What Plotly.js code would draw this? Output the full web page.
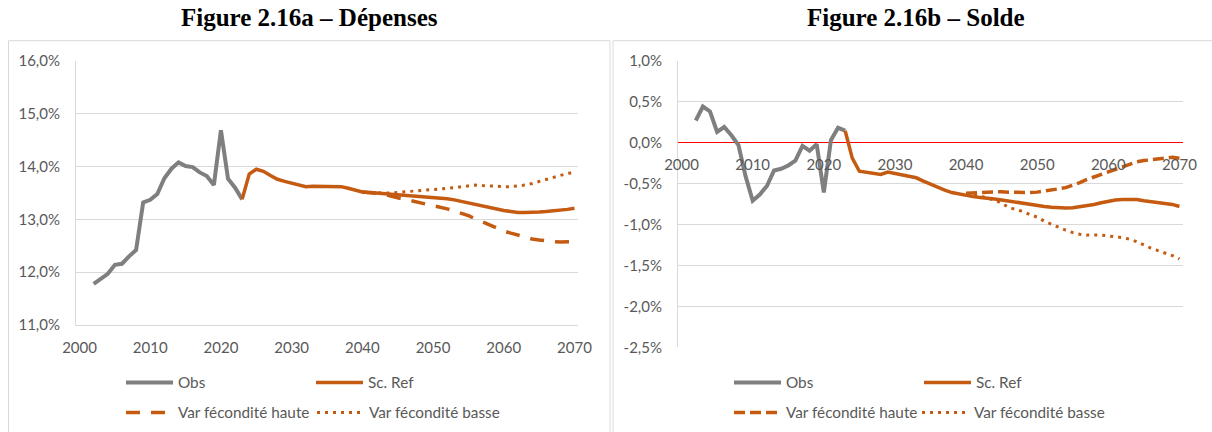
<!DOCTYPE html>
<html><head><meta charset="utf-8">
<script src="https://cdn.plot.ly/plotly-3.0.1.min.js"></script>
<style>html,body{margin:0;padding:0;background:#fff}#chart{width:1212px;height:432px}</style>
</head><body><div id="chart"></div>
<script>
// ---------- DATA ----------
const obsYears = [2002,2003,2004,2005,2006,2007,2008,2009,2010,2011,2012,2013,2014,2015,2016,2017,2018,2019,2020,2021,2022,2023];
const refYears = [2023,2024,2025,2026,2027,2028,2029,2030,2031,2032,2033,2034,2035,2036,2037,2038,2039,2040,2041,2042,2043,2044,2045,2046,2047,2048,2049,2050,2051,2052,2053,2054,2055,2056,2057,2058,2059,2060,2061,2062,2063,2064,2065,2066,2067,2068,2069,2070];
const varYears = [2040,2041,2042,2043,2044,2045,2046,2047,2048,2049,2050,2051,2052,2053,2054,2055,2056,2057,2058,2059,2060,2061,2062,2063,2064,2065,2066,2067,2068,2069,2070];

// Figure 2.16a – Dépenses (% du PIB)
const depObs = [11.78,11.87,11.97,12.14,12.16,12.30,12.42,13.32,13.37,13.48,13.78,13.96,14.08,14.01,13.99,13.89,13.82,13.65,14.69,13.77,13.60,13.38];
const depRef = [13.38,13.86,13.95,13.91,13.83,13.76,13.72,13.69,13.65,13.62,13.63,13.63,13.63,13.63,13.62,13.59,13.55,13.52,13.51,13.50,13.49,13.47,13.46,13.45,13.44,13.43,13.43,13.42,13.41,13.39,13.37,13.34,13.31,13.29,13.26,13.23,13.20,13.17,13.15,13.13,13.13,13.13,13.14,13.15,13.16,13.17,13.19,13.21];
const depHaute = [13.52,13.51,13.50,13.48,13.44,13.41,13.39,13.36,13.33,13.30,13.27,13.24,13.20,13.16,13.12,13.07,13.01,12.95,12.89,12.83,12.78,12.74,12.70,12.66,12.63,12.61,12.59,12.58,12.57,12.57,12.58];
const depBasse = [13.52,13.51,13.50,13.50,13.50,13.51,13.52,13.53,13.54,13.55,13.56,13.57,13.58,13.60,13.62,13.64,13.65,13.64,13.63,13.62,13.62,13.62,13.63,13.65,13.68,13.72,13.76,13.79,13.83,13.87,13.89];

// Figure 2.16b – Solde (% du PIB)
const solObs = [0.27,0.44,0.38,0.13,0.19,0.09,-0.03,-0.41,-0.71,-0.635,-0.53,-0.34,-0.32,-0.28,-0.22,-0.04,-0.10,-0.02,-0.61,0.03,0.18,0.145];
const solRef = [0.145,-0.19,-0.35,-0.36,-0.37,-0.39,-0.36,-0.38,-0.40,-0.42,-0.43,-0.47,-0.51,-0.55,-0.58,-0.61,-0.63,-0.65,-0.66,-0.67,-0.675,-0.69,-0.70,-0.715,-0.73,-0.74,-0.75,-0.765,-0.78,-0.79,-0.80,-0.80,-0.795,-0.785,-0.77,-0.755,-0.735,-0.715,-0.70,-0.695,-0.69,-0.695,-0.71,-0.72,-0.73,-0.74,-0.755,-0.78];
const solHaute = [-0.62,-0.61,-0.61,-0.605,-0.60,-0.60,-0.605,-0.61,-0.61,-0.61,-0.605,-0.595,-0.58,-0.565,-0.55,-0.525,-0.49,-0.45,-0.42,-0.39,-0.36,-0.32,-0.29,-0.26,-0.235,-0.22,-0.21,-0.20,-0.18,-0.18,-0.19];
const solBasse = [-0.63,-0.64,-0.65,-0.68,-0.70,-0.74,-0.79,-0.82,-0.84,-0.88,-0.91,-0.96,-1.00,-1.04,-1.07,-1.10,-1.12,-1.13,-1.13,-1.13,-1.14,-1.15,-1.16,-1.18,-1.21,-1.25,-1.29,-1.32,-1.35,-1.38,-1.42];

// Ticks and labels
const xTickVals = [2000,2010,2020,2030,2040,2050,2060,2070];
const xTickText = ["2000","2010","2020","2030","2040","2050","2060","2070"];
const depTickVals = [11,12,13,14,15,16];
const depTickText = ["11,0%","12,0%","13,0%","14,0%","15,0%","16,0%"];
const solTickVals = [-2.5,-2,-1.5,-1,-0.5,0,0.5,1];
const solTickText = ["-2,5%","-2,0%","-1,5%","-1,0%","-0,5%","0,0%","0,5%","1,0%"];
const seriesNames = ["Obs","Sc. Ref","Var fécondité haute","Var fécondité basse"];
const titleA = "Figure 2.16a – Dépenses";
const titleB = "Figure 2.16b – Solde";

// ---------- LAYOUT HELPERS ----------
const W = 1212, H = 432;
const px = v => v / W;
const py = v => 1 - v / H;
const GREY = '#7f7f7f', ORANGE = '#c55a11', GRID = '#d9d9d9', TXT = '#595959';
const FONT = 'Lato, "Open Sans", sans-serif';

function tr(x, y, xa, ya, name, color, width, dash, legend) {
  return {type:'scatter', mode:'lines', x:x, y:y, xaxis:xa, yaxis:ya, name:name,
    line:{color:color, width:width, dash:dash}, legend:legend, hoverinfo:'skip'};
}

const data = [
  tr(obsYears, depObs, 'x', 'y', seriesNames[0], GREY, 4, 'solid', 'legend'),
  tr(refYears, depRef, 'x', 'y', seriesNames[1], ORANGE, 3.5, 'solid', 'legend2'),
  tr(varYears, depHaute, 'x', 'y', seriesNames[2], ORANGE, 3.5, '14px,11px', 'legend3'),
  tr(varYears, depBasse, 'x', 'y', seriesNames[3], ORANGE, 3, '3px,5px', 'legend4'),
  tr(obsYears, solObs, 'x2', 'y2', seriesNames[0], GREY, 4, 'solid', 'legend5'),
  tr(refYears, solRef, 'x2', 'y2', seriesNames[1], ORANGE, 3.5, 'solid', 'legend6'),
  tr(varYears, solHaute, 'x2', 'y2', seriesNames[2], ORANGE, 3.5, '11px,5px', 'legend7'),
  tr(varYears, solBasse, 'x2', 'y2', seriesNames[3], ORANGE, 3, '3px,5px', 'legend8')
];

function leg(xPix, yPix) {
  return {x:px(xPix), y:py(yPix), xanchor:'left', yanchor:'middle', orientation:'v',
    bgcolor:'rgba(0,0,0,0)', borderwidth:0, itemwidth:47,
    font:{family:FONT, size:15.3, color:TXT}};
}
const tickFont = {family:FONT, size:15, color:TXT};

const layout = {
  width:W, height:H, margin:{l:0,r:0,t:0,b:0}, paper_bgcolor:'#fff', plot_bgcolor:'#fff',
  showlegend:true,
  xaxis:{domain:[px(76),px(578)], range:[1999.5,2070.5], tickvals:xTickVals, ticktext:xTickText,
    showgrid:false, zeroline:false, showline:true, linecolor:GRID, linewidth:1, ticks:'',
    tickfont:tickFont, ticklabelstandoff:9, automargin:false, fixedrange:true, anchor:'y'},
  yaxis:{domain:[py(325),py(61)], range:[11,16], tickvals:depTickVals, ticktext:depTickText,
    showgrid:true, gridcolor:GRID, gridwidth:1, zeroline:false, showline:true, linecolor:GRID,
    ticks:'', tickfont:tickFont, ticklabelstandoff:12, automargin:false, fixedrange:true, anchor:'x'},
  xaxis2:{domain:[px(678),px(1183)], range:[1999.5,2070.5], tickvals:xTickVals, ticktext:xTickText,
    anchor:'free', position:py(142.6), showgrid:false, zeroline:false, showline:false,
    ticks:'', tickfont:tickFont, ticklabelstandoff:11, automargin:false, fixedrange:true},
  yaxis2:{domain:[py(347.3),py(60.7)], range:[-2.5,1], tickvals:solTickVals, ticktext:solTickText,
    showgrid:true, gridcolor:GRID, gridwidth:1, zeroline:true, zerolinecolor:'#ff0000', zerolinewidth:1.5,
    showline:true, linecolor:GRID,
    ticks:'', tickfont:tickFont, ticklabelstandoff:12, automargin:false, fixedrange:true, anchor:'x2'},
  legend:leg(121,382.5), legend2:leg(311,382.5), legend3:leg(121,412.5), legend4:leg(312,412.5),
  legend5:leg(729,382.5), legend6:leg(919,382.5), legend7:leg(729,412.5), legend8:leg(917,412.5),
  shapes:[
    {type:'rect', xref:'paper', yref:'paper', x0:px(8.5), x1:px(610), y0:-0.1, y1:py(40.7), line:{color:GRID, width:1}, layer:'below'},
    {type:'rect', xref:'paper', yref:'paper', x0:px(613), x1:px(1230), y0:-0.1, y1:py(40.7), line:{color:GRID, width:1}, layer:'below'}
  ],
  annotations:[
    {text:'<b>'+titleA+'</b>', xref:'paper', yref:'paper', x:px(309), y:py(18), xanchor:'center', yanchor:'middle', showarrow:false,
      font:{family:'"Liberation Serif", "Times New Roman", serif', size:25, color:'#000'}},
    {text:'<b>'+titleB+'</b>', xref:'paper', yref:'paper', x:px(916), y:py(18), xanchor:'center', yanchor:'middle', showarrow:false,
      font:{family:'"Liberation Serif", "Times New Roman", serif', size:25, color:'#000'}}
  ]
};

Plotly.newPlot('chart', data, layout, {displayModeBar:false, staticPlot:true});
</script>
</body></html>
